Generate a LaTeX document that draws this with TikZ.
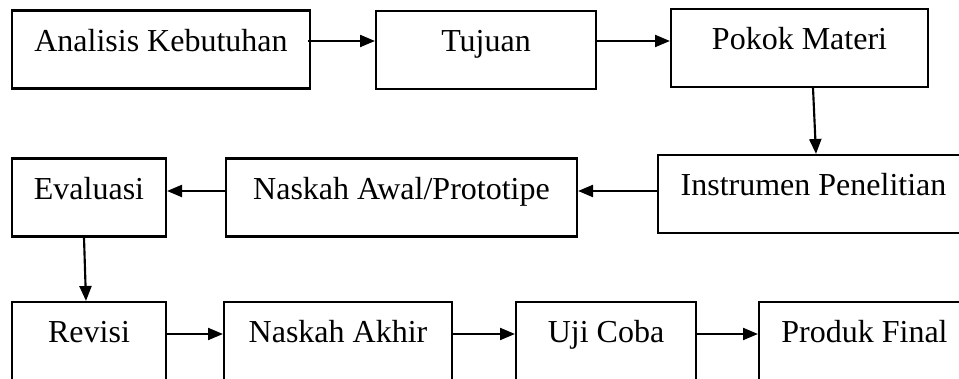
\documentclass[tikz,border=0pt]{standalone}
\usepackage{fontspec}
\setmainfont{Liberation Serif}
\usetikzlibrary{arrows.meta,calc}
\tikzset{
  stepbox/.style={draw, line width=0.8pt, rectangle, inner xsep=0pt, inner ysep=0pt,
    text height=15.375pt, text depth=13.875pt, font=\fontsize{12}{14}\selectfont,
    minimum width=#1*0.375pt},
  arr/.style={line width=0.8pt, -{Triangle[length=5.6pt,width=4.5pt]}}
}
\begin{document}
\begin{tikzpicture}[x=0.375pt, y=-0.375pt]
\useasboundingbox (0,0) rectangle (959,379);
\clip (0,0) rectangle (959,379);
\node[stepbox=298] (b1) at (161,49.5) {Analisis Kebutuhan};
\node[stepbox=220] (b2) at (486,50) {Tujuan};
\node[stepbox=257] (b3) at (799.5,48) {Pokok Materi};
\node[stepbox=311] (b4) at (813.5,194) {Instrumen Penelitian};
\node[stepbox=351] (b5) at (401.5,197.5) {Naskah Awal/Prototipe};
\node[stepbox=154] (b6) at (89,197.5) {Evaluasi};
\node[stepbox=154] (b7) at (89,341) {Revisi};
\node[stepbox=228] (b8) at (338,341) {Naskah Akhir};
\node[stepbox=180] (b9) at (606,341) {Uji Coba};
\node[stepbox=211] (b10) at (864.5,341) {Produk Final};
\coordinate (r1) at (0,41);
\coordinate (r2) at (0,191);
\coordinate (r3) at (0,334);
\draw[arr] ($(b1.east |- r1)+(-3,0)$) -- (b2.west |- r1);
\draw[arr] (b2.east |- r1) -- (b3.west |- r1);
\draw[arr] ($(b3.south)+(13.5,0)$) -- ($(b4.north)+(2.5,0)$);
\draw[arr] (b4.west |- r2) -- (b5.east |- r2);
\draw[arr] (b5.west |- r2) -- (b6.east |- r2);
\draw[arr] ($(b6.south)+(-5,0)$) -- ($(b7.north)+(-3,0)$);
\draw[arr] (b7.east |- r3) -- (b8.west |- r3);
\draw[arr] (b8.east |- r3) -- (b9.west |- r3);
\draw[arr] (b9.east |- r3) -- (b10.west |- r3);
\end{tikzpicture}
\end{document}
